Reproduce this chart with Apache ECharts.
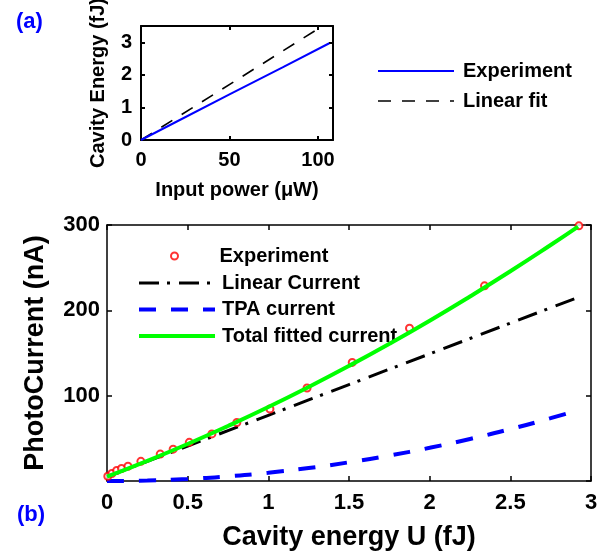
<!DOCTYPE html>
<html>
<head>
<meta charset="utf-8">
<script src="https://cdn.jsdelivr.net/npm/echarts@6/dist/echarts.min.js"></script>
<style>
html,body{margin:0;padding:0;background:#fff;}
#c{width:598px;height:556px;}
</style>
</head>
<body>
<div id="c"></div>
<script>
// ---- Panel (a) data ----
const powerExp = [0, 20, 50, 80, 106.4];          // Input power (uW)
const energyExp = [0, 0.56, 1.40, 2.23, 2.97];     // Cavity energy (fJ)
const powerFit = [0, 100.3];
const energyFit = [0, 3.42];

// ---- Panel (b) data ----
const uExp = [0.005, 0.03, 0.06, 0.09, 0.13, 0.21, 0.33, 0.41, 0.51, 0.65, 0.805, 1.01, 1.24, 1.52, 1.875, 2.34, 2.925];
const iExp = [5.5, 8.8, 12.3, 14.6, 17.3, 23, 31.5, 37.3, 45.3, 55.2, 68.5, 84.4, 109, 139, 179, 228.7, 299];

const uFit = [0, 0.25, 0.5, 0.75, 1.0, 1.25, 1.5, 1.75, 2.0, 2.25, 2.5, 2.75, 2.92];
const iLinear = [5, 23, 41, 59, 77, 95, 113, 131, 149, 167, 185, 203, 215.2];
const iTPA = [0, 0.6, 2.4, 5.5, 9.7, 15.2, 21.9, 29.8, 38.9, 49.3, 60.8, 73.6, 83];
const iTotal = [5, 23.6, 43.4, 64.5, 86.7, 110.2, 134.9, 160.8, 187.9, 216.3, 245.8, 276.6, 298.2];

const namesA = ['Experiment', 'Linear fit'];
const namesB = ['Experiment ', 'Linear Current', 'TPA current', 'Total fitted current'];

const pair = (xs, ys) => xs.map((x, i) => [x, ys[i]]);
const FONT = '"Liberation Sans", Arial, sans-serif';

function boxAxes(gridIndex, opts) {
  const { xmin, xmax, xint, ymin, ymax, yint, lw, tickLen, labelSize, xName, yName, nameSize, xNameGap, yNameGap, xLabelMargin, yLabelMargin, hideY0 } = opts;
  const lineStyle = { color: '#000', width: lw };
  const common = { splitLine: { show: false }, axisLine: { show: true, onZero: false, lineStyle } };
  const labelStyle = { color: '#000', fontFamily: FONT, fontWeight: 'bold', fontSize: labelSize };
  const nameStyle = { color: '#000', fontFamily: FONT, fontWeight: 'bold', fontSize: nameSize };
  const xAxes = [
    Object.assign({}, common, {
      type: 'value', gridIndex, position: 'bottom', min: xmin, max: xmax, interval: xint,
      axisTick: { show: true, inside: true, length: tickLen, lineStyle },
      axisLabel: Object.assign({ margin: xLabelMargin, showMaxLabel: xmax % xint === 0 }, labelStyle),
      name: xName, nameLocation: 'middle', nameGap: xNameGap, nameTextStyle: nameStyle
    }),
    Object.assign({}, common, {
      type: 'value', gridIndex, position: 'top', min: xmin, max: xmax, interval: xint,
      axisTick: { show: true, inside: true, length: tickLen, lineStyle },
      axisLabel: { show: false }
    })
  ];
  const yAxes = [
    Object.assign({}, common, {
      type: 'value', gridIndex, position: 'left', min: ymin, max: ymax, interval: yint,
      axisTick: { show: true, inside: true, length: tickLen, lineStyle },
      axisLabel: Object.assign({ margin: yLabelMargin, showMaxLabel: ymax % yint === 0,
        formatter: v => (hideY0 && v === 0) ? '' : String(v) }, labelStyle),
      name: yName, nameLocation: 'middle', nameRotate: 90, nameGap: yNameGap, nameTextStyle: nameStyle
    }),
    Object.assign({}, common, {
      type: 'value', gridIndex, position: 'right', min: ymin, max: ymax, interval: yint,
      axisTick: { show: true, inside: true, length: tickLen, lineStyle },
      axisLabel: { show: false }
    })
  ];
  return { xAxes, yAxes };
}

const A = boxAxes(0, { xmin: 0, xmax: 108.5, xint: 50, ymin: 0, ymax: 3.5, yint: 1, lw: 2, tickLen: 4,
  labelSize: 20, xName: 'Input power (\u03bcW)', yName: 'Cavity Energy (fJ)', nameSize: 20,
  xNameGap: 40, yNameGap: 33, xLabelMargin: 10, yLabelMargin: 9, hideY0: false });
const B = boxAxes(1, { xmin: 0, xmax: 3, xint: 0.5, ymin: 0, ymax: 300, yint: 100, lw: 1.5, tickLen: 5,
  labelSize: 22, xName: 'Cavity energy U (fJ)', yName: 'PhotoCurrent (nA)', nameSize: 27,
  xNameGap: 43, yNameGap: 58, xLabelMargin: 11, yLabelMargin: 7, hideY0: true });

const legendTextA = { color: '#000', fontFamily: FONT, fontWeight: 'bold', fontSize: 20, lineHeight: 20, padding: [0, 0, 0, 4] };
const legendTextB = { color: '#000', fontFamily: FONT, fontWeight: 'bold', fontSize: 20, lineHeight: 20, padding: [0, 0, 0, 2] };
const hiddenSymbol = { opacity: 0 };

const option = {
  animation: false,
  backgroundColor: '#fff',
  title: [
    { text: '(a)', left: 11, top: 6, textStyle: { color: '#0000ff', fontFamily: FONT, fontWeight: 'bold', fontSize: 22 } },
    { text: '(b)', left: 12, top: 499, textStyle: { color: '#0000ff', fontFamily: FONT, fontWeight: 'bold', fontSize: 22 } }
  ],
  grid: [
    { left: 141, top: 26, width: 192, height: 114, show: false, containLabel: false, outerBoundsMode: 'none' },
    { left: 107, top: 225, width: 484, height: 256, show: false, containLabel: false, outerBoundsMode: 'none' }
  ],
  xAxis: [...A.xAxes, ...B.xAxes],
  yAxis: [...A.yAxes, ...B.yAxes],
  legend: [
    { data: [
        { name: namesA[0], lineStyle: { width: 2 } },
        { name: namesA[1], lineStyle: { width: 1.6 } }
      ],
      orient: 'vertical', left: 377, top: 61, padding: 0, itemWidth: 76, itemHeight: 14, itemGap: 10,
      textStyle: legendTextA, itemStyle: hiddenSymbol },
    { data: [namesB[0]], orient: 'vertical', left: 170, top: 246, padding: 0, itemWidth: 76, itemHeight: 7, itemGap: 6,
      textStyle: legendTextB },
    { data: [
        { name: namesB[1], lineStyle: { width: 3 } },
        { name: namesB[2], lineStyle: { width: 4 } },
        { name: namesB[3], lineStyle: { width: 4 } }
      ],
      orient: 'vertical', left: 137, top: 273, padding: 0, itemWidth: 76, itemHeight: 14, itemGap: 6.5,
      textStyle: legendTextB, itemStyle: hiddenSymbol }
  ],
  series: [
    { name: namesA[0], type: 'line', xAxisIndex: 0, yAxisIndex: 0, data: pair(powerExp, energyExp),
      symbol: 'none', showSymbol: false, lineStyle: { color: '#0000ff', width: 2 }, itemStyle: { color: '#0000ff' }, z: 3 },
    { name: namesA[1], type: 'line', xAxisIndex: 0, yAxisIndex: 0, data: pair(powerFit, energyFit),
      symbol: 'none', showSymbol: false, lineStyle: { color: '#000', width: 1.6, type: [13, 11] }, itemStyle: { color: '#000' }, z: 2 },

    { name: namesB[1], type: 'line', xAxisIndex: 2, yAxisIndex: 2, data: pair(uFit, iLinear),
      symbol: 'none', showSymbol: false, lineStyle: { color: '#000', width: 3, type: [20, 8, 3, 9] }, itemStyle: { color: '#000' }, z: 2 },
    { name: namesB[2], type: 'line', xAxisIndex: 2, yAxisIndex: 2, data: pair(uFit, iTPA), smooth: true,
      symbol: 'none', showSymbol: false, lineStyle: { color: '#0000ff', width: 4, type: [17, 15] }, itemStyle: { color: '#0000ff' }, z: 2 },
    { name: namesB[0], type: 'scatter', xAxisIndex: 2, yAxisIndex: 2, data: pair(uExp, iExp),
      symbol: 'emptyCircle', symbolSize: 7, itemStyle: { color: '#ff0000', borderColor: '#ff0000', borderWidth: 1.6 }, z: 3 },
    { name: namesB[3], type: 'line', xAxisIndex: 2, yAxisIndex: 2, data: pair(uFit, iTotal), smooth: true,
      symbol: 'none', showSymbol: false, lineStyle: { color: '#00ff00', width: 4 }, itemStyle: { color: '#00ff00' }, z: 4 }
  ]
};

const chart = echarts.init(document.getElementById('c'), null, { renderer: 'canvas' });
chart.setOption(option);
</script>
</body>
</html>
